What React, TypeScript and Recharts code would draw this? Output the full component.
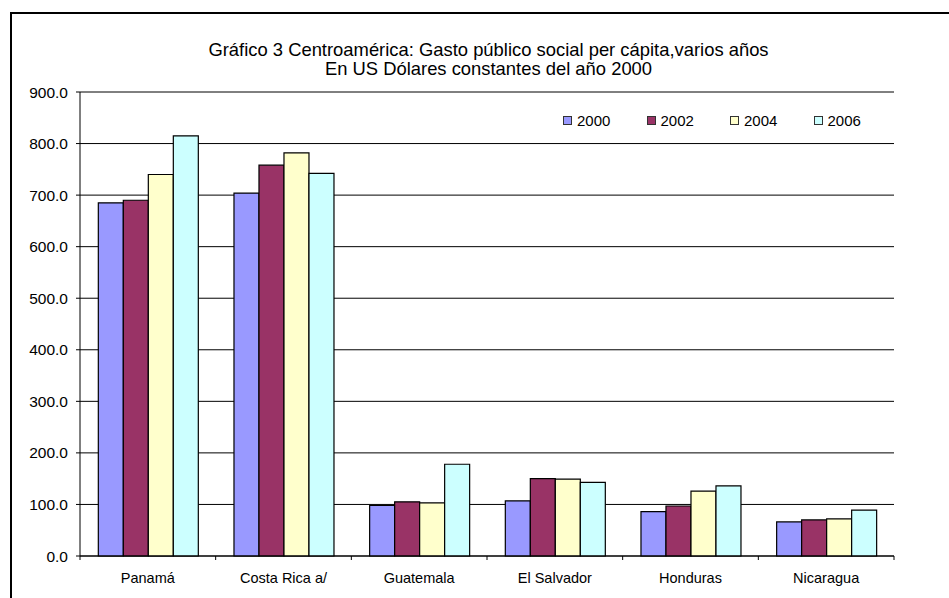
import React from 'react';
import { BarChart, Bar, XAxis, YAxis, CartesianGrid } from 'recharts';

const countries = ['Panamá', 'Costa Rica a/', 'Guatemala', 'El Salvador', 'Honduras', 'Nicaragua'];
const years = ['2000', '2002', '2004', '2006'];
const gasto2000 = [685, 704, 98, 107, 86, 66];
const gasto2002 = [690, 758, 105, 150, 97, 70];
const gasto2004 = [740, 782, 103, 149, 126, 72];
const gasto2006 = [815, 742, 178, 143, 136, 89];
const yTicks = [0, 100, 200, 300, 400, 500, 600, 700, 800, 900];
const colors = ['#9999FF', '#993366', '#FFFFCC', '#CCFFFF'];

const series = [gasto2000, gasto2002, gasto2004, gasto2006];
const data = countries.map((pais, i) => {
  const row: Record<string, string | number> = { pais };
  years.forEach((y, k) => {
    row[y] = series[k][i];
  });
  return row;
});

const font = '"Liberation Sans", Arial, sans-serif';

// label in the middle of the category, small tick marks on the category borders
function CountryTick(props: any) {
  const { x, y, payload, width, visibleTicksCount, index } = props;
  const half = width && visibleTicksCount ? width / visibleTicksCount / 2 : payload.offset;
  const axisY = y - 15;
  return (
    <g>
      <line x1={x - half} x2={x - half} y1={axisY} y2={axisY + 4} stroke="#000" />
      {index === visibleTicksCount - 1 && (
        <line x1={x + half} x2={x + half} y1={axisY} y2={axisY + 4} stroke="#000" />
      )}
      <text x={x} y={axisY + 27} textAnchor="middle" fontSize={14.5} fontFamily={font} fill="#000">
        {payload.value}
      </text>
    </g>
  );
}

export default function App() {
  return (
    <div style={{ position: 'fixed', left: 0, top: 0, width: 949, height: 598, background: '#fff' }}>
      <div
        style={{
          position: 'absolute',
          left: 10,
          top: 12,
          width: 960,
          height: 620,
          border: '2px solid #000',
          boxSizing: 'border-box',
        }}
      />
      <div
        style={{
          position: 'absolute',
          left: 0,
          top: 40,
          width: 977,
          textAlign: 'center',
          fontFamily: font,
          fontSize: 18.4,
          lineHeight: '19px',
          color: '#000',
        }}
      >
        <div>Gráfico 3 Centroamérica: Gasto público social per cápita,varios años</div>
        <div>En US Dólares constantes del año 2000</div>
      </div>
      <div style={{ position: 'fixed', left: 0, top: 0 }}>
        <BarChart
          width={949}
          height={598}
          data={data}
          margin={{ top: 92, right: 55, left: 10, bottom: 12 }}
          barCategoryGap="13.5%"
          barGap={0}
        >
          <CartesianGrid vertical={false} stroke="#000" />
          <XAxis
            dataKey="pais"
            height={30}
            axisLine={{ stroke: '#000' }}
            tickLine={false}
            tickSize={4}
            tickMargin={11}
            interval={0}
            tick={<CountryTick />}
          />
          <YAxis
            width={70}
            domain={[0, 900]}
            ticks={yTicks}
            interval={0}
            tickFormatter={(v: number) => v.toFixed(1)}
            axisLine={{ stroke: '#000' }}
            tickLine={{ stroke: '#000' }}
            tickSize={4}
            tickMargin={8}
            tick={{ fill: '#000', fontSize: 15.5, fontFamily: font }}
          />
          <YAxis
            yAxisId="right"
            orientation="right"
            width={0}
            domain={[0, 900]}
            tick={false}
            tickLine={false}
            axisLine={{ stroke: '#808080', strokeWidth: 2 }}
          />
          {years.map((y, k) => (
            <Bar
              key={y}
              dataKey={y}
              fill={colors[k]}
              stroke="#000"
              strokeWidth={1.2}
              isAnimationActive={false}
            />
          ))}
        </BarChart>
      </div>
      <div
        style={{
          position: 'absolute',
          left: 563,
          top: 113,
          display: 'flex',
          fontFamily: font,
          fontSize: 15,
          lineHeight: '15px',
          color: '#000',
        }}
      >
        {years.map((y, k) => (
          <div key={y} style={{ width: 83.5, display: 'flex', alignItems: 'center' }}>
            <span
              style={{
                display: 'inline-block',
                width: 9,
                height: 9,
                background: colors[k],
                border: '1px solid #333',
                boxSizing: 'border-box',
                marginRight: 5,
              }}
            />
            <span>{y}</span>
          </div>
        ))}
      </div>
    </div>
  );
}
